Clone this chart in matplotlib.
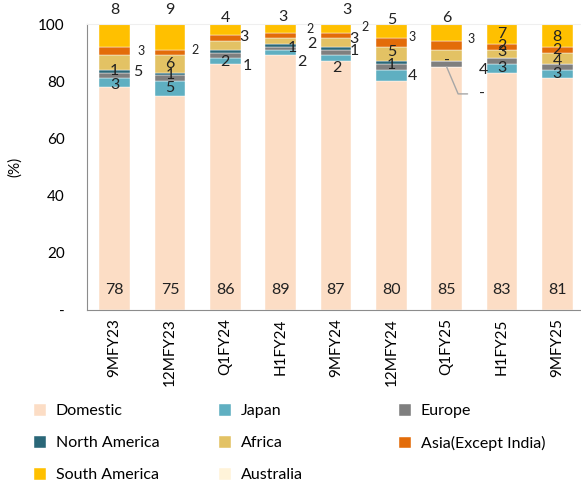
import matplotlib
matplotlib.use('Agg')
from matplotlib import pyplot as plt
import numpy as np

plt.rcParams['font.family'] = ['Lato', 'DejaVu Sans']

# 数据
periods = ['9MFY23', '12MFY23', 'Q1FY24', 'H1FY24', '9MFY24', '12MFY24', 'Q1FY25', 'H1FY25', '9MFY25']
series_names = ['Domestic', 'Japan', 'Europe', 'North America', 'Africa',
                'Asia(Except India)', 'South America', 'Australia']
domestic = [78, 75, 86, 89, 87, 80, 85, 83, 81]
japan = [3, 5, 2, 2, 2, 4, 0, 3, 3]
europe = [2, 2, 2, 1, 2, 2, 2, 2, 2]
north_america = [1, 1, 1, 1, 1, 1, 0, 0, 0]
africa = [5, 6, 3, 2, 3, 5, 4, 3, 4]
asia = [3, 2, 2, 2, 2, 3, 3, 2, 2]
south_america = [8, 9, 4, 3, 3, 5, 6, 7, 8]
australia = [0, 0, 0, 0, 0, 0, 0, 0, 0]
colors = ['#FCDDC5', '#5FAFC1', '#7F7F7F', '#2A6778', '#E3C264', '#E36C09', '#FFC000', '#FFF3D9']

values = [domestic, japan, europe, north_america, africa, asia, south_america, australia]

# 标签位置 (bar, series, dx px, dy px, size) 相对于分段中心
labels = [
    (0, 1, 0, -2, 11.5), (0, 3, 0, 0, 11.5), (0, 4, 23, -9, 11.5), (0, 5, 26, 0, 9), (0, 6, 0, 25, 11.5),
    (1, 1, 0, 0, 11.5), (1, 3, 0, -1, 11.5), (1, 4, 0, 0, 11.5), (1, 5, 25, 3, 9), (1, 6, 0, 27, 11.5),
    (2, 1, 0, -1, 11.5), (2, 3, 22, -15, 11.5), (2, 4, 19, 8, 11.5), (2, 6, 0, 12, 11.5),
    (3, 1, 21, -9, 11.5), (3, 3, 12, -3, 11.5), (3, 4, 31, -3, 11.5), (3, 5, 29, 6, 9), (3, 6, 2, 11, 11.5),
    (4, 1, 1, -10, 11.5), (4, 3, 18, -3, 11.5), (4, 4, 18, 4, 11.5), (4, 5, 29, 8, 9), (4, 6, 11, 18, 11.5),
    (5, 1, 21, -1, 11.5), (5, 3, 0, -2, 11.5), (5, 4, 0, 2, 11.5), (5, 5, 21, 6, 9), (5, 6, 0, 11, 11.5),
    (6, 3, 0, 0, 11.5), (6, 4, 37, -15, 11.5), (6, 5, 24, 6, 9), (6, 6, 0, 15, 11.5),
    (7, 1, 0, 0, 11.5), (7, 4, 0, 2, 11.5), (7, 5, 0, 1, 11.5), (7, 6, 0, 0, 11.5),
    (8, 1, 0, 0, 11.5), (8, 4, 0, -3, 11.5), (8, 5, 0, 0, 11.5), (8, 6, 0, -2, 11.5),
]

fig = plt.figure(figsize=(5.81, 4.84), dpi=100)
ax = fig.add_axes([87/581, 174/484, 498/581, 286/484])

x = np.arange(len(periods))
bottom = np.zeros(len(periods))
bottoms = []
handles = []
for name, vals, c in zip(series_names, values, colors):
    vals = np.array(vals, dtype=float)
    h = ax.bar(x, vals, 0.55, bottom=bottom, color=c, label=name, edgecolor='white', linewidth=0.3)
    handles.append(h)
    bottoms.append(bottom.copy())
    bottom = bottom + vals

# 国内标签
for i, v in enumerate(domestic):
    ax.annotate(f'{v}', (x[i], 0), xytext=(0, 20), textcoords='offset pixels',
                ha='center', va='center', fontsize=11.5, color='#222222')

for b, s, dx, dy, size in labels:
    v = values[s][b]
    yc = bottoms[s][b] + v / 2
    txt = f'{v:.0f}' if v else '-'
    ax.annotate(txt, (x[b], yc), xytext=(dx, dy), textcoords='offset pixels',
                ha='center', va='center', fontsize=size, color='#222222')

# Q1FY25 日本 = 0, 引线
ax.annotate('-', (x[6], bottoms[1][6]), xytext=(35, -27), textcoords='offset pixels',
            ha='center', va='center', fontsize=11.5, color='#222222',
            arrowprops=dict(arrowstyle='-', color='#A6A6A6', lw=1,
                            connectionstyle='angle,angleA=0,angleB=-67,rad=0',
                            shrinkA=6, shrinkB=0))

ax.set_xlim(-0.5, len(periods) - 0.5)
ax.set_ylim(0, 100)
ax.set_yticks([0, 20, 40, 60, 80, 100])
ax.set_yticklabels(['-', '20', '40', '60', '80', '100'])
ax.set_xticks(x)
ax.set_xticklabels(periods, rotation=90)
ax.tick_params(axis='y', length=0, pad=16, labelsize=11)
ax.tick_params(axis='x', length=0, pad=6, labelsize=11)
for side in ['left', 'bottom']:
    ax.spines[side].set_color('#8C8C8C')
ax.spines['top'].set_color('#EFEFEF')
ax.spines['right'].set_visible(False)

fig.text(15/581, 1 - 167/484, '(%)', rotation=90, ha='center', va='center', fontsize=11)

# 图例 (三列)
cols = [[0, 3, 6], [1, 4, 7], [2, 5]]
col_x = [34, 219, 399]
for cx, idx in zip(col_x, cols):
    fig.legend([handles[k] for k in idx], [series_names[k] for k in idx],
               loc='upper left', bbox_to_anchor=(cx/581, 1 - 404/484), frameon=False,
               fontsize=11.5, handlelength=0.75, handleheight=0.75, handletextpad=0.6,
               labelspacing=1.1, borderaxespad=0, borderpad=0)

plt.savefig('out.png')
